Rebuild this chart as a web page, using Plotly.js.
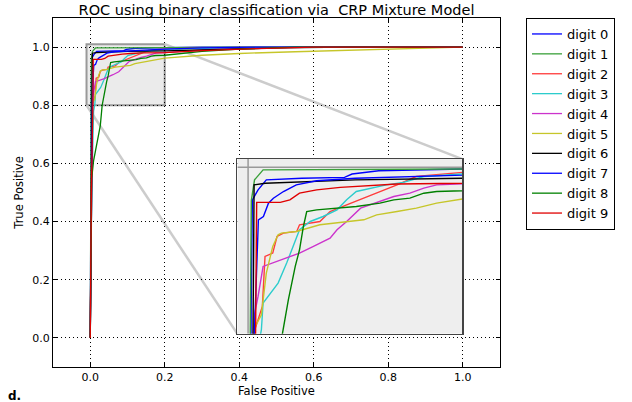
<!DOCTYPE html>
<html>
<head>
<meta charset="utf-8">
<script src="https://cdn.plot.ly/plotly-3.0.1.min.js"></script>
<style>html,body{margin:0;padding:0;background:#fff;}#chart{width:632px;height:402px;}</style>
</head>
<body>
<div id="chart"></div>
<script>
// ROC data (false positive rate, true positive rate)
const digitNames = ["digit 0","digit 1","digit 2","digit 3","digit 4","digit 5","digit 6","digit 7","digit 8","digit 9"];
const fpr0 = [0, 0.001, 0.003, 0.004, 0.0093, 0.017, 0.05, 0.09, 0.097, 0.122, 0.2, 0.3, 1];
const tpr0 = [0, 0.5, 0.85, 0.961, 0.973, 0.985, 0.987, 0.988, 0.992, 0.996, 0.998, 1.0, 1];
const fpr1 = [0, 0.001, 0.002, 0.003, 0.006, 0.014, 0.2, 0.4, 1];
const tpr1 = [0, 0.6, 0.8, 0.96, 0.985, 0.997, 0.998, 1.0, 1];
const fpr2 = [0, 0.003, 0.005, 0.0133, 0.0158, 0.023, 0.027, 0.033, 0.0454, 0.048, 0.067, 0.0765, 0.092, 0.108, 0.123, 0.139, 0.157, 0.2, 0.3, 0.45, 1];
const tpr2 = [0, 0.4, 0.8, 0.833, 0.893, 0.897, 0.917, 0.921, 0.923, 0.931, 0.935, 0.947, 0.955, 0.963, 0.971, 0.979, 0.989, 0.994, 0.997, 1.0, 1];
const fpr3 = [0, 0.004, 0.009, 0.0124, 0.014, 0.028, 0.036, 0.042, 0.048, 0.058, 0.07, 0.083, 0.092, 0.101, 0.114, 0.129, 0.145, 0.164, 0.2, 0.3, 0.45, 1];
const tpr3 = [0, 0.5, 0.78, 0.805, 0.837, 0.861, 0.885, 0.905, 0.925, 0.935, 0.941, 0.949, 0.961, 0.971, 0.975, 0.979, 0.982, 0.989, 0.992, 0.996, 1.0, 1];
const fpr4 = [0, 0.003, 0.005, 0.0062, 0.0093, 0.014, 0.036, 0.048, 0.061, 0.0765, 0.083, 0.092, 0.105, 0.114, 0.126, 0.136, 0.151, 0.164, 0.176, 0.2, 0.3, 0.45, 0.6, 1];
const tpr4 = [0, 0.5, 0.8, 0.825, 0.845, 0.881, 0.891, 0.897, 0.905, 0.915, 0.925, 0.935, 0.951, 0.955, 0.961, 0.965, 0.969, 0.975, 0.979, 0.981, 0.99, 0.997, 1.0, 1];
const fpr5 = [0, 0.003, 0.005, 0.006, 0.0124, 0.017, 0.023, 0.028, 0.031, 0.045, 0.067, 0.108, 0.12, 0.139, 0.157, 0.176, 0.2, 0.3, 0.4, 0.55, 0.7, 0.9, 1];
const tpr5 = [0, 0.5, 0.78, 0.807, 0.823, 0.873, 0.905, 0.919, 0.921, 0.923, 0.931, 0.937, 0.943, 0.947, 0.951, 0.957, 0.962, 0.972, 0.978, 0.984, 0.99, 0.996, 1];
const fpr6 = [0, 0.003, 0.005, 0.0056, 0.016, 0.1, 0.2, 0.35, 0.5, 0.7, 1];
const tpr6 = [0, 0.5, 0.8, 0.979, 0.981, 0.985, 0.987, 0.992, 0.997, 1.0, 1];
const fpr7 = [0, 0.002, 0.004, 0.006, 0.0084, 0.0096, 0.0143, 0.019, 0.0236, 0.033, 0.045, 0.064, 0.1, 0.15, 0.2, 0.3, 0.45, 1];
const tpr7 = [0, 0.3, 0.7, 0.805, 0.913, 0.937, 0.941, 0.957, 0.963, 0.971, 0.979, 0.984, 0.987, 0.99, 0.993, 0.997, 1.0, 1];
const fpr8 = [0, 0.002, 0.004, 0.009, 0.018, 0.027, 0.032, 0.0376, 0.044, 0.048, 0.0516, 0.0547, 0.064, 0.0858, 0.101, 0.123, 0.136, 0.151, 0.164, 0.176, 0.2, 0.3, 0.4, 0.55, 1];
const tpr8 = [0, 0.4, 0.55, 0.61, 0.67, 0.73, 0.8, 0.841, 0.881, 0.901, 0.929, 0.947, 0.949, 0.951, 0.953, 0.957, 0.961, 0.963, 0.969, 0.971, 0.972, 0.985, 0.993, 1.0, 1];
const fpr9 = [0, 0.003, 0.007, 0.008, 0.03, 0.039, 0.048, 0.064, 0.086, 0.108, 0.139, 0.2, 0.3, 0.45, 0.6, 1];
const tpr9 = [0, 0.5, 0.8, 0.958, 0.958, 0.961, 0.969, 0.973, 0.976, 0.978, 0.98, 0.981, 0.988, 0.995, 1.0, 1];

const fprs = [fpr0, fpr1, fpr2, fpr3, fpr4, fpr5, fpr6, fpr7, fpr8, fpr9];
const tprs = [tpr0, tpr1, tpr2, tpr3, tpr4, tpr5, tpr6, tpr7, tpr8, tpr9];
const colors = ["#0000ff", "#3aa03a", "#ff3b3b", "#2ccccc", "#cc33cc", "#c6c62a", "#000000", "#0000ff", "#008000", "#e00000"];

// zoom window shown in the inset
const zoomX = [-0.01, 0.2];
const zoomY = [0.8, 1.01];
// inset placement in main data coords
const insetX = [0.395, 0.999];
const insetY = [0.014, 0.615];

const traces = [];
for (let i = 0; i < 10; i++) {
  traces.push({x: fprs[i], y: tprs[i], type: 'scatter', mode: 'lines', name: digitNames[i],
    line: {color: colors[i], width: 1.3}, xaxis: 'x', yaxis: 'y', hoverinfo: 'skip'});
}
for (let i = 0; i < 10; i++) {
  traces.push({x: fprs[i], y: tprs[i], type: 'scatter', mode: 'lines', name: digitNames[i], showlegend: false,
    line: {color: colors[i], width: 1.4}, xaxis: 'x2', yaxis: 'y2', hoverinfo: 'skip'});
}

const font = "DejaVu Sans, Liberation Sans, sans-serif";
const mainRange = [-0.1, 1.1];
const dom = v => (v - mainRange[0]) / (mainRange[1] - mainRange[0]);

const layout = {
  width: 632, height: 402,
  margin: {l: 53, r: 132, t: 18, b: 35},
  paper_bgcolor: '#ffffff', plot_bgcolor: '#ffffff',
  font: {family: font, color: '#000', size: 11},
  title: {text: 'ROC using binary classification via&nbsp; CRP Mixture Model', x: 0.5, xref: 'paper', xanchor: 'center',
    y: 1 - 10/402, yref: 'container', yanchor: 'middle', font: {size: 14.5, family: font, color: '#000'}},
  xaxis: {range: mainRange, dtick: 0.2, tick0: 0, tickformat: '.1f', showgrid: true, gridcolor: '#000', griddash: '1px,3px', gridwidth: 1,
    zeroline: false, showline: true, linecolor: '#000', linewidth: 1, mirror: 'ticks', ticks: 'inside', ticklen: 4, tickcolor: '#000',
    tickfont: {size: 11}, title: {text: 'False Positive', font: {size: 11.5}, standoff: 3}, domain: [0, 1]},
  yaxis: {range: mainRange, dtick: 0.2, tick0: 0, tickformat: '.1f', showgrid: true, gridcolor: '#000', griddash: '1px,3px', gridwidth: 1,
    zeroline: false, showline: true, linecolor: '#000', linewidth: 1, mirror: 'ticks', ticks: 'inside', ticklen: 4, tickcolor: '#000',
    tickfont: {size: 11}, title: {text: 'True Positive', font: {size: 11.5}, standoff: 6}, domain: [0, 1]},
  xaxis2: {domain: [dom(insetX[0]), dom(insetX[1])], anchor: 'y2', range: zoomX, showgrid: false, zeroline: false,
    showticklabels: false, ticks: '', showline: true, mirror: true, linecolor: '#444', linewidth: 1.5},
  yaxis2: {domain: [dom(insetY[0]), dom(insetY[1])], anchor: 'x2', range: zoomY, showgrid: false, zeroline: false,
    showticklabels: false, ticks: '', showline: true, mirror: true, linecolor: '#444', linewidth: 1.5},
  legend: {x: (526-53)/447, xanchor: 'left', y: 1, yanchor: 'top', bordercolor: '#000', borderwidth: 1, bgcolor: '#fff',
    font: {size: 13, family: font}},
  shapes: [
    // zoom indicator in main axes
    {type: 'rect', xref: 'x', yref: 'y', x0: zoomX[0], x1: zoomX[1], y0: zoomY[0], y1: zoomY[1], layer: 'below',
      fillcolor: '#ebebeb', line: {color: '#999', width: 2}},
    // connector lines
    {type: 'line', xref: 'x', yref: 'y', x0: zoomX[1], y0: zoomY[1], x1: insetX[1], y1: insetY[1], layer: 'below', line: {color: '#cccccc', width: 2.5}},
    {type: 'line', xref: 'x', yref: 'y', x0: zoomX[0], y0: zoomY[0], x1: insetX[0], y1: insetY[0], layer: 'below', line: {color: '#cccccc', width: 2.5}},
    // inset background
    {type: 'rect', xref: 'x2', yref: 'y2', x0: zoomX[0], x1: zoomX[1], y0: zoomY[0], y1: zoomY[1], layer: 'below',
      fillcolor: '#eeeeee', line: {width: 0}},
    {type: 'line', xref: 'x2', yref: 'y2', x0: 0, x1: 0, y0: zoomY[0], y1: zoomY[1], layer: 'below', line: {color: '#999', width: 1.5}},
    {type: 'line', xref: 'x2', yref: 'y2', x0: zoomX[0], x1: zoomX[1], y0: 1.0, y1: 1.0, layer: 'below', line: {color: '#999', width: 1.5}}
  ],
  annotations: [
    {text: '<b>d.</b>', xref: 'paper', yref: 'paper', x: (6-53)/447, y: (367-396)/349, xanchor: 'left', yanchor: 'middle',
      showarrow: false, font: {size: 12, family: font, color: '#000'}}
  ]
};

Plotly.newPlot('chart', traces, layout, {staticPlot: true, displayModeBar: false});
</script>
</body>
</html>
